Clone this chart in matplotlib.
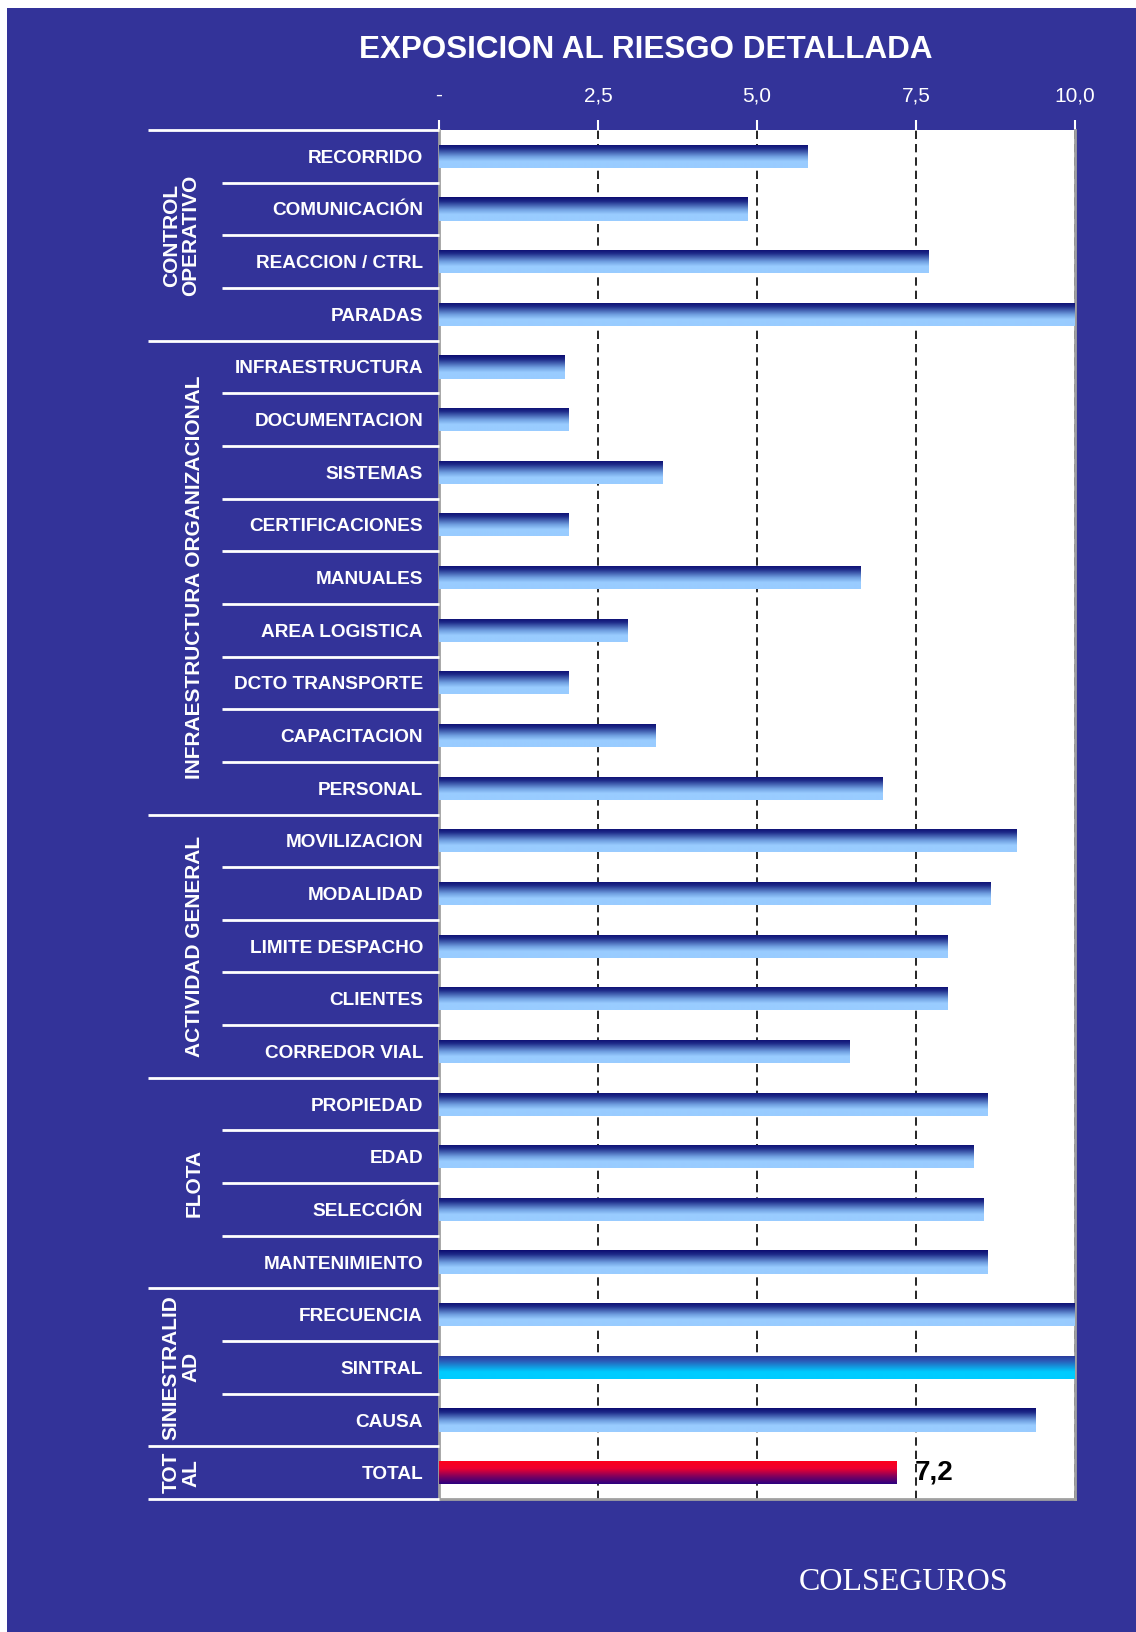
"""
Exposicion al riesgo detallada - horizontal gradient bar chart
"""
import numpy as np
import matplotlib
matplotlib.use('Agg')  # Use non-interactive backend
import matplotlib.pyplot as plt
from matplotlib.colors import LinearSegmentedColormap
from matplotlib.patches import Rectangle
from matplotlib.lines import Line2D
from matplotlib.transforms import blended_transform_factory

# Data
groups = ['CONTROL\nOPERATIVO', 'INFRAESTRUCTURA ORGANIZACIONAL', 'ACTIVIDAD GENERAL',
          'FLOTA', 'SINIESTRALID\nAD', 'TOT\nAL']
group_sizes = [4, 9, 5, 4, 3, 1]
categories = ['RECORRIDO', 'COMUNICACIÓN', 'REACCION / CTRL', 'PARADAS',
              'INFRAESTRUCTURA', 'DOCUMENTACION', 'SISTEMAS', 'CERTIFICACIONES',
              'MANUALES', 'AREA LOGISTICA', 'DCTO TRANSPORTE', 'CAPACITACION', 'PERSONAL',
              'MOVILIZACION', 'MODALIDAD', 'LIMITE DESPACHO', 'CLIENTES', 'CORREDOR VIAL',
              'PROPIEDAD', 'EDAD', 'SELECCIÓN', 'MANTENIMIENTO',
              'FRECUENCIA', 'SINTRAL', 'CAUSA',
              'TOTAL']
values = [5.8, 4.85, 7.7, 10.0,
          1.97, 2.03, 3.52, 2.03, 6.62, 2.97, 2.03, 3.41, 6.98,
          9.08, 8.67, 8.0, 8.0, 6.46,
          8.62, 8.41, 8.56, 8.62,
          10.0, 10.0, 9.38,
          7.2]
tick_values = [0, 2.5, 5.0, 7.5, 10.0]
tick_labels = ['-', '2,5', '5,0', '7,5', '10,0']

BG = '#333399'
W, H = 1136, 1632
FONT = 'Liberation Sans'

# Gradients (top -> bottom of each bar)
cmap_blue = LinearSegmentedColormap.from_list(
    'blue', [(0, '#0b0b70'), (0.18, '#1d2a88'), (0.52, '#6f9fe0'), (0.72, '#99ccff'), (1, '#99ccff')])
cmap_cyan = LinearSegmentedColormap.from_list(
    'cyan', [(0, '#2b3496'), (0.25, '#2a5cb8'), (0.7, '#00ccff'), (1, '#00ccff')])
cmap_red = LinearSegmentedColormap.from_list(
    'red', [(0, '#ff0018'), (0.35, '#ee0030'), (0.7, '#7a0060'), (1, '#2a0080')])
special = {'SINTRAL': cmap_cyan, 'TOTAL': cmap_red}

fig = plt.figure(figsize=(W / 100, H / 100), dpi=100, facecolor='white')
fig.add_artist(Rectangle((7 / W, 0), 1 - 7 / W, 1 - 8 / H, transform=fig.transFigure,
                         facecolor=BG, edgecolor='none', zorder=0))

ax_left, ax_right, ax_top, ax_bottom = 439, 1075, 130, 1499
ax = fig.add_axes([ax_left / W, 1 - ax_bottom / H, (ax_right - ax_left) / W, (ax_bottom - ax_top) / H])
ax.set_facecolor('white')

n = len(categories)
y = np.arange(n)
bars = ax.barh(y, values, height=0.44, color='none', edgecolor='none', zorder=3)

# Fill each bar with a vertical gradient clipped to the bar
grad = np.linspace(0, 1, 256).reshape(-1, 1)
for bar, name in zip(bars, categories):
    cmap = special.get(name, cmap_blue)
    x0 = bar.get_x()
    x1 = x0 + bar.get_width()
    y0 = bar.get_y()
    y1 = y0 + bar.get_height()
    im = ax.imshow(grad, cmap=cmap, extent=(x0, x1, y1, y0), aspect='auto',
                   interpolation='bilinear', zorder=3)
    im.set_clip_path(bar)

ax.set_xlim(0, 10)
ax.set_ylim(n - 0.5, -0.5)

# Axis styling
ax.set_axisbelow(True)
ax.grid(axis='x', color='black', linestyle=(0, (5, 3)), linewidth=1.2)
ax.grid(axis='y', visible=False)
ax.xaxis.tick_top()
ax.set_xticks(tick_values, tick_labels)
ax.tick_params(axis='x', colors='white', length=7, width=1.5, pad=11, labelsize=15)
for lbl in ax.get_xticklabels():
    lbl.set_family(FONT)
ax.set_yticks(y, categories)
ax.tick_params(axis='y', length=0, pad=11.5, labelcolor='white', labelsize=13.7)
for lbl in ax.get_yticklabels():
    lbl.set_family(FONT)
    lbl.set_fontweight('bold')

ax.spines['top'].set_visible(False)
for side in ['left', 'right', 'bottom']:
    ax.spines[side].set_color('#a0a0a0')
    ax.spines[side].set_linewidth(2)

# Separator lines and group labels
trans = blended_transform_factory(fig.transFigure, ax.transData)
group_bounds = np.concatenate([[0], np.cumsum(group_sizes)]) - 0.5
for b in np.arange(-0.5, n):
    x0 = 148 / W if np.any(np.isclose(group_bounds, b)) else 222 / W
    fig.add_artist(Line2D([x0, ax_left / W], [b, b], transform=trans,
                          color='white', linewidth=2, solid_capstyle='butt'))

for name, start, size in zip(groups, group_bounds[:-1], group_sizes):
    xg = 181 if '\n' in name else 194
    ax.text(xg / W, start + size / 2, name, transform=trans, rotation=90,
            ha='center', va='center', multialignment='center', linespacing=1.05,
            color='white', fontsize=15, fontweight='bold', family=FONT, clip_on=False)

# Value label for the total bar
total = values[-1]
ax.text(total + 0.28, y[-1], f'{total:.1f}'.replace('.', ','), ha='left', va='center',
        color='black', fontsize=20, fontweight='bold', family=FONT, zorder=4)

fig.text(646 / W, 1 - 50 / H, 'EXPOSICION AL RIESGO DETALLADA', ha='center', va='center',
         color='white', fontsize=22.6, fontweight='bold', family=FONT)
fig.text(904 / W, 1 - 1583 / H, 'COLSEGUROS', ha='center', va='center',
         color='white', fontsize=23, family='Liberation Serif')

fig.savefig('out.png', dpi=100)
plt.close(fig)
